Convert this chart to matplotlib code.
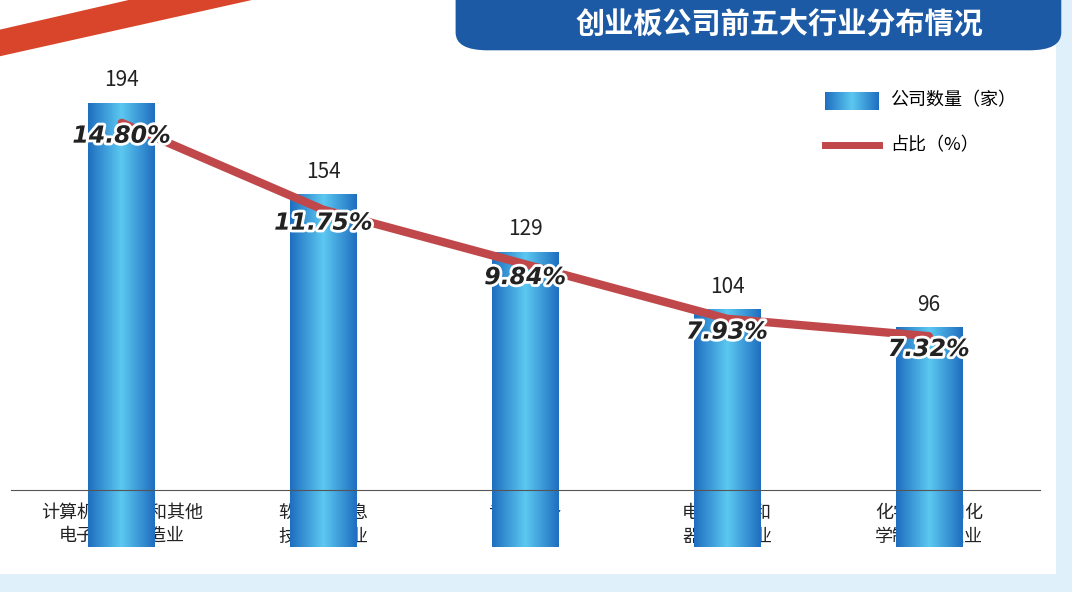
import numpy as np
import matplotlib.pyplot as plt
from matplotlib.patches import FancyBboxPatch, Polygon, Rectangle
from matplotlib.colors import LinearSegmentedColormap
import matplotlib.patheffects as pe

plt.rcParams['font.family'] = ['Noto Sans CJK SC', 'DejaVu Sans']

categories = ["计算机、通信和其他\n电子设备制造业", "软件和信息\n技术服务业", "专用设备\n制造业",
              "电气机械和\n器材制造业", "化学原料和化\n学制品制造业"]
counts = [194, 154, 129, 104, 96]
shares = [14.80, 11.75, 9.84, 7.93, 7.32]
title = "创业板公司前五大行业分布情况"

fig = plt.figure(figsize=(10.72, 5.92), dpi=100)
fig.patch.set_facecolor("#dff0fa")
fig.patches.append(Rectangle((0, 0.03), 0.985, 0.97, transform=fig.transFigure,
                             facecolor="white", edgecolor="none", zorder=-3))
# decorative red wedge top-left
fig.patches.append(Polygon([(0, 0.905), (0.235, 1.0), (0.12, 1.0), (0, 0.95)], closed=True,
                           transform=fig.transFigure, facecolor="#d9452b", edgecolor="none", zorder=-2))
# title banner
fig.patches.append(FancyBboxPatch((0.425, 0.915), 0.565, 0.12, boxstyle="round,pad=0,rounding_size=0.03",
                                  transform=fig.transFigure, facecolor="#1d5aa6", edgecolor="none", zorder=-2))
fig.text(0.727, 0.958, title, color="white", fontsize=21, fontweight="bold", ha="center", va="center")

ax = fig.add_axes([0.01, 0.172, 0.96, 0.727])
ax.set_facecolor("none")
x = np.arange(len(categories))
w = 0.33

cmap = LinearSegmentedColormap.from_list("b", ["#1f6fc0", "#5cc8f0", "#1f6fc0"])
bars = ax.bar(x, counts, width=w, color="none", zorder=2)
for b, v in zip(bars, counts):
    x0 = b.get_x()
    im = ax.imshow(np.tile(np.linspace(0, 1, 100), (2, 1)), cmap=cmap, aspect="auto",
                   extent=[x0, x0 + w, 0, v], zorder=2)
    im.set_clip_path(b)
    ax.text(x0 + w / 2, v + 5, str(v), ha="center", va="bottom", fontsize=15, color="#222222")
ax.set_aspect("auto")
ax.set_xlim(-0.55, len(categories) - 0.45)
ax.set_ylim(25, 212.7)

ax2 = ax.twinx()
ax2.set_ylim(1.92, 17.01)
ax2.plot(x, shares, color="#c0484a", lw=6, solid_capstyle="round", zorder=3)
for xi, s in zip(x, shares):
    ax2.text(xi, s - 0.45, f"{s:.2f}%", ha="center", va="center", fontsize=17, fontweight="bold",
             style="italic", family="DejaVu Sans", color="#222222",
             path_effects=[pe.withStroke(linewidth=4, foreground="white")], zorder=4)

for a in (ax, ax2):
    for sp in ["top", "right", "left"]:
        a.spines[sp].set_visible(False)
    a.set_yticks([])
ax2.spines["bottom"].set_visible(False)
ax.spines["bottom"].set_color("#555555")
ax.set_xticks(x)
ax.set_xticklabels(categories, fontsize=13, color="#222222", linespacing=1.4)
ax.tick_params(axis="x", length=0, pad=10)

# legend
lx = fig.add_axes([0.77, 0.815, 0.05, 0.03])
lx.imshow(np.tile(np.linspace(0, 1, 100), (2, 1)), cmap=cmap, aspect="auto")
lx.axis("off")
fig.text(0.83, 0.83, "公司数量（家）", fontsize=13, va="center")
fig.lines.append(plt.Line2D([0.77, 0.82], [0.755, 0.755], transform=fig.transFigure,
                            color="#c0484a", lw=5))
fig.text(0.83, 0.755, "占比（%）", fontsize=13, va="center")

fig.savefig("out.png", dpi=100)
